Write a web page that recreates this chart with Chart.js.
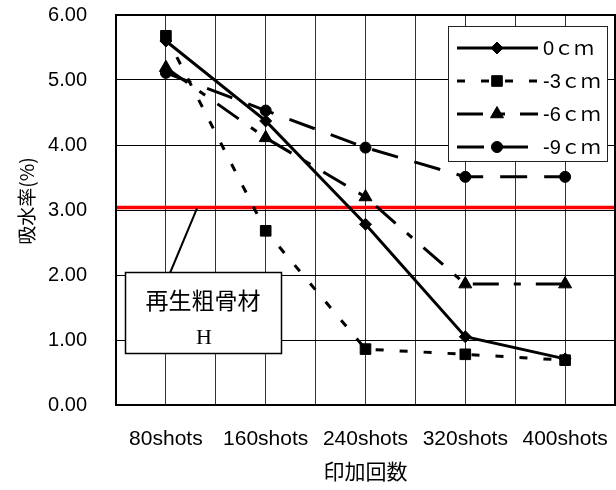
<!DOCTYPE html>
<html>
<head>
<meta charset="utf-8">
<script src="https://cdn.jsdelivr.net/npm/chart.js@4.4.0/dist/chart.umd.min.js"></script>
<style>
  html, body { margin: 0; padding: 0; background: #fff; }
</style>
</head>
<body>
<canvas id="chart" width="616" height="490"></canvas>
<script>
// ----- Data -----
const categories = ["80shots", "160shots", "240shots", "320shots", "400shots"];
const seriesLabels = ["0ｃｍ", "-3ｃｍ", "-6ｃｍ", "-9ｃｍ"];
const depth0 = [5.60, 4.37, 2.78, 1.05, 0.71];
const depth3 = [5.68, 2.68, 0.86, 0.78, 0.69];
const depth6 = [5.19, 4.11, 3.20, 1.86, 1.86];
const depth9 = [5.11, 4.53, 3.96, 3.51, 3.51];
const limitValue = 3.04;
const yTicks = [0, 1, 2, 3, 4, 5, 6];
const yTitle = "吸水率(%)";
const noteLines = ["再生粗骨材", "H"];

// ----- Styles -----
const seriesStyles = [
  { dash: [], pointStyle: "rectRot", radius: 6 },
  { dash: [8, 16], pointStyle: "rect", radius: 7.5 },
  { dash: [26, 15, 7, 15], pointStyle: "triangle", radius: 7.5 },
  { dash: [27, 17], pointStyle: "circle", radius: 5.5 }
];
const seriesValues = [depth0, depth3, depth6, depth9];

// category i sits on grid column 2i+1 (10 columns in total)
function toPoints(values) {
  return values.map((v, i) => ({ x: 2 * i + 1, y: v }));
}

const datasets = seriesValues.map((vals, i) => ({
  label: seriesLabels[i],
  data: toPoints(vals),
  borderColor: "#000",
  backgroundColor: "#000",
  borderWidth: 3,
  borderDash: seriesStyles[i].dash,
  pointStyle: seriesStyles[i].pointStyle,
  pointRadius: seriesStyles[i].radius,
  pointBorderWidth: 1,
  pointBackgroundColor: "#000",
  pointBorderColor: "#000",
  tension: 0
}));

// red reference line
datasets.push({
  label: "limit",
  data: [{ x: 0, y: limitValue }, { x: 10, y: limitValue }],
  borderColor: "#ff0000",
  borderWidth: 3.5,
  pointRadius: 0
});

// ----- Decorations: frame, legend, note box, y title -----
const decorPlugin = {
  id: "decor",
  afterDatasetsDraw(chart) {
    const { ctx, chartArea, scales } = chart;
    ctx.save();

    // plot frame
    ctx.strokeStyle = "#000";
    ctx.lineWidth = 2;
    ctx.setLineDash([]);
    ctx.strokeRect(chartArea.left, chartArea.top,
      chartArea.right - chartArea.left, chartArea.bottom - chartArea.top);

    // legend
    ctx.fillStyle = "#fff";
    ctx.fillRect(448.5, 26.5, 159, 135);
    ctx.strokeStyle = "#222";
    ctx.lineWidth = 1;
    ctx.strokeRect(448.5, 26.5, 159, 135);
    const rowY = [48, 81, 114, 147];
    seriesLabels.forEach((label, i) => {
      const y = rowY[i];
      const st = seriesStyles[i];
      ctx.strokeStyle = "#000";
      ctx.fillStyle = "#000";
      ctx.lineWidth = 3;
      ctx.setLineDash(st.dash);
      ctx.beginPath();
      ctx.moveTo(457, y);
      ctx.lineTo(538, y);
      ctx.stroke();
      ctx.setLineDash([]);
      ctx.lineWidth = 1;
      Chart.helpers.drawPoint(ctx, {
        pointStyle: st.pointStyle, radius: st.radius, borderWidth: 1, rotation: 0
      }, 497, y);
      ctx.font = '20px "Liberation Sans", "Noto Sans CJK JP"';
      ctx.textAlign = "left";
      ctx.textBaseline = "middle";
      ctx.fillText(label, 543, y + 1);
    });

    // note box with leader to the red line
    const redY = scales.y.getPixelForValue(limitValue);
    ctx.strokeStyle = "#000";
    ctx.lineWidth = 2;
    ctx.beginPath();
    ctx.moveTo(170, 273);
    ctx.lineTo(197, redY + 1);
    ctx.stroke();

    ctx.fillStyle = "#fff";
    ctx.fillRect(125.5, 272.5, 156, 81);
    ctx.lineWidth = 1.5;
    ctx.strokeRect(125.5, 272.5, 156, 81);
    ctx.fillStyle = "#000";
    ctx.textAlign = "center";
    ctx.textBaseline = "middle";
    ctx.font = '23px "Noto Sans CJK JP"';
    ctx.fillText(noteLines[0], 203, 300);
    ctx.font = '22px "Liberation Serif"';
    ctx.fillText(noteLines[1], 204, 338);

    // y axis title (sits a little above the axis centre in the original)
    ctx.translate(27, 201);
    ctx.rotate(-Math.PI / 2);
    ctx.font = '19px "Noto Sans CJK JP"';
    ctx.fillText(yTitle, 0, 0);

    ctx.restore();
  }
};

new Chart(document.getElementById("chart"), {
  type: "line",
  data: { datasets },
  options: {
    responsive: false,
    animation: false,
    layout: { autoPadding: false, padding: { top: 15, right: 1, left: 0, bottom: 0 } },
    plugins: {
      legend: { display: false },
      tooltip: { enabled: false }
    },
    scales: {
      x: {
        type: "linear",
        min: 0,
        max: 10,
        afterFit(scale) {
          scale.height = 85;
          scale.paddingLeft = 0;
          scale.paddingRight = 0;
        },
        ticks: {
          stepSize: 1,
          autoSkip: false,
          maxRotation: 0,
          padding: 22,
          color: "#000",
          font: { family: "Liberation Sans", size: 21 },
          callback: (v) => {
            const n = Math.round(v);
            return n % 2 === 1 ? categories[(n - 1) / 2] : "";
          }
        },
        grid: { color: "#333", lineWidth: 1, drawTicks: false },
        border: { display: false },
        title: {
          display: true,
          text: "印加回数",
          color: "#000",
          font: { family: "Noto Sans CJK JP", size: 21 },
          padding: { top: 0, bottom: 6 }
        }
      },
      y: {
        min: 0,
        max: 6,
        afterFit(scale) {
          scale.width = 116;
          scale.paddingTop = 0;
          scale.paddingBottom = 0;
        },
        afterBuildTicks(scale) { scale.ticks = yTicks.map(v => ({ value: v })); },
        ticks: {
          padding: 29,
          color: "#000",
          font: { family: "Liberation Sans", size: 20 },
          callback: (v) => Number(v).toFixed(2)
        },
        grid: { color: "#000", lineWidth: 1, drawTicks: false },
        border: { display: false }
      }
    }
  },
  plugins: [decorPlugin]
});
</script>
</body>
</html>
